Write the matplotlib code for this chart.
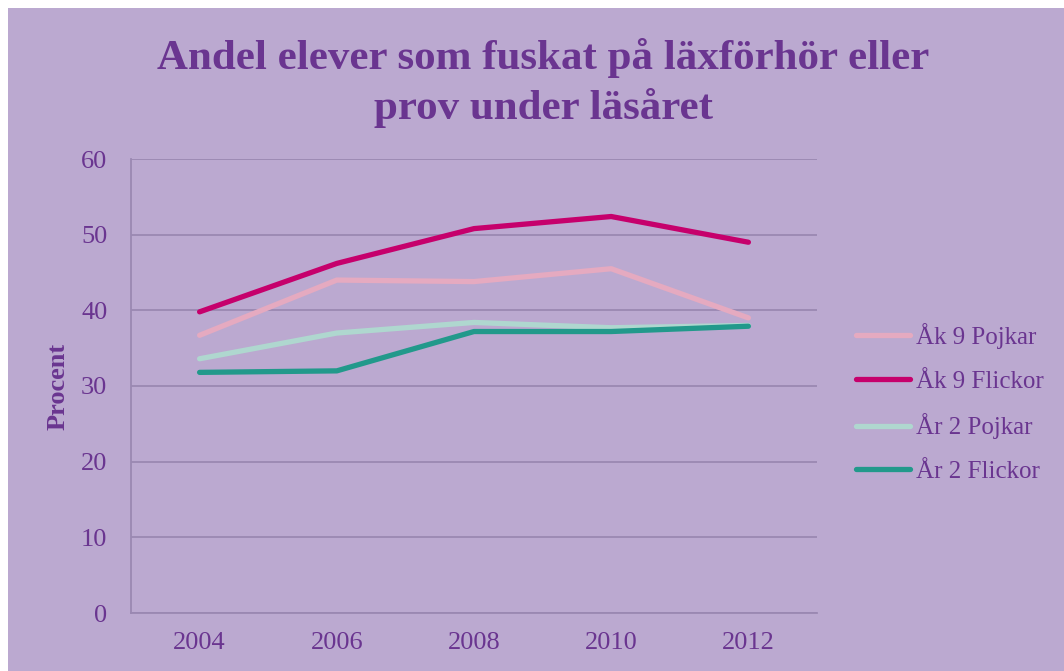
"""Andel elever som fuskat — linjediagram per årskurs och kön."""
import matplotlib

matplotlib.use("Agg")
import matplotlib.pyplot as plt
from matplotlib.patches import Rectangle

years = ["2004", "2006", "2008", "2010", "2012"]
ak9_pojkar = [36.7, 44.0, 43.8, 45.5, 39.0]
ak9_flickor = [39.8, 46.2, 50.8, 52.4, 49.0]
ar2_pojkar = [33.6, 37.0, 38.4, 37.7, 38.0]
ar2_flickor = [31.8, 32.0, 37.2, 37.2, 37.9]

series = [
    ("Åk 9 Pojkar", ak9_pojkar, "#e5aac0"),
    ("Åk 9 Flickor", ak9_flickor, "#c6006c"),
    ("År 2 Pojkar", ar2_pojkar, "#afd7cf"),
    ("År 2 Flickor", ar2_flickor, "#22998b"),
]

BG = "#bba9d0"
TXT = "#6a3590"
GRID = "#9a88b2"

plt.rcParams["font.family"] = ["Liberation Serif", "DejaVu Serif"]

fig = plt.figure(figsize=(10.64, 6.71), dpi=100, facecolor="white")
# lila bakgrund med vit kant upptill/vänster
fig.patches.append(Rectangle((8 / 1064, 0), 1, 1 - 8 / 671, transform=fig.transFigure,
                             facecolor=BG, edgecolor="none", zorder=-10))

ax = fig.add_axes([131 / 1064, 1 - 613 / 671, 686 / 1064, 454 / 671])
ax.set_facecolor(BG)

x = range(len(years))
for label, vals, color in series:
    ax.plot(x, vals, color=color, linewidth=3.8, solid_capstyle="round",
            solid_joinstyle="round", label=label)

ax.set_xlim(-0.5, len(years) - 0.5)
ax.set_ylim(0, 60)
ax.set_yticks(range(0, 61, 10))
ax.set_xticks(list(x))
ax.set_xticklabels(years)
ax.grid(axis="y", color=GRID, linewidth=1.3)
ax.set_axisbelow(True)
for side in ("top", "right"):
    ax.spines[side].set_visible(False)
for side in ("left", "bottom"):
    ax.spines[side].set_color(GRID)
    ax.spines[side].set_linewidth(1.3)
ax.tick_params(axis="y", length=0, pad=17, labelsize=19, labelcolor=TXT)
ax.tick_params(axis="x", length=0, pad=14, labelsize=19, labelcolor=TXT)

ax.set_ylabel("Procent", fontsize=19, fontweight="bold", color=TXT, labelpad=8)

fig.text(543 / 1064, 1 - 83 / 671, "Andel elever som fuskat på läxförhör eller\nprov under läsåret",
         ha="center", va="center", fontsize=31, fontweight="bold", color=TXT,
         linespacing=1.3)

leg = ax.legend(loc="center left", bbox_to_anchor=(856 / 1064, 1 - 403 / 671),
                bbox_transform=fig.transFigure, frameon=False, fontsize=18,
                borderpad=0, borderaxespad=0,
                handlelength=2.16, handletextpad=0.24, labelspacing=0.84)
for t in leg.get_texts():
    t.set_color(TXT)

fig.savefig("out.png", dpi=100, facecolor=fig.get_facecolor())
